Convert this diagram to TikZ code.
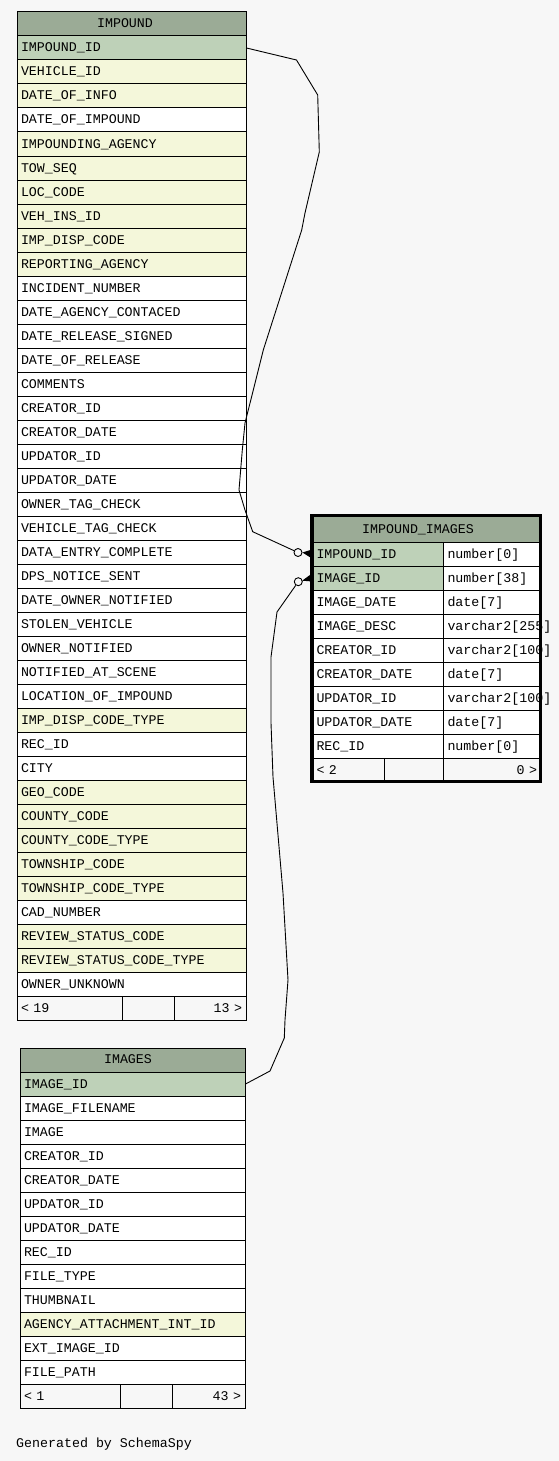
\documentclass[tikz,border=0pt]{standalone}
\usepackage{fontspec}
\newfontfamily\tfont{Liberation Mono}
\usetikzlibrary{calc}
\definecolor{bgc}{HTML}{F7F7F7}
\definecolor{headc}{HTML}{9BAB96}
\definecolor{pkc}{HTML}{BED1B8}
\definecolor{idxc}{HTML}{F4F7DA}
\definecolor{wc}{HTML}{FFFFFF}
\newcommand\mkcell[7]{\pgfmathsetmacro\cw{#4-8}\node[cellbase, fill=#5, text width=\cw pt, align=#6] (#1) at (#2,#3) {\mbox{#7}};}
\begin{document}
\begin{tikzpicture}[x=1pt,y=-1pt,
  tf/.style={font=\tfont\fontsize{13.3}{14}\selectfont},
  cellbase/.style={tf, draw=black, line width=1pt, anchor=north west, minimum height=24pt, inner xsep=4pt, inner ysep=0pt, text height=11pt, text depth=3pt},
  headcell/.style={cellbase, fill=headc, minimum width=#1},
  headtext/.style={tf, anchor=base, inner sep=0pt},
  conn/.style={draw=black, line width=0.9pt},
  hollow/.style={circle, draw=black, line width=0.9pt, fill=bgc, minimum size=8pt, inner sep=0pt},
  crowfoot/.style={fill=black}
]
\fill[bgc] (0,0) rectangle (559,1461);
\useasboundingbox (0,0) rectangle (559,1461);

% ---------------- IMPOUND ----------------
\node[headcell=229pt] (imphead) at (16.5,11.5) {};
\node[headtext] (imphtxt) at (125,27.5) {IMPOUND};
\foreach \n/\c [count=\i, evaluate=\i as \yy using 35.5+(\i-1)*24] in {
  IMPOUND\_ID/pkc, VEHICLE\_ID/idxc, DATE\_OF\_INFO/idxc, DATE\_OF\_IMPOUND/wc,
  IMPOUNDING\_AGENCY/idxc, TOW\_SEQ/idxc, LOC\_CODE/idxc, VEH\_INS\_ID/idxc,
  IMP\_DISP\_CODE/idxc, REPORTING\_AGENCY/idxc, INCIDENT\_NUMBER/wc,
  DATE\_AGENCY\_CONTACED/wc, DATE\_RELEASE\_SIGNED/wc, DATE\_OF\_RELEASE/wc,
  COMMENTS/wc, CREATOR\_ID/wc, CREATOR\_DATE/wc, UPDATOR\_ID/wc, UPDATOR\_DATE/wc,
  OWNER\_TAG\_CHECK/wc, VEHICLE\_TAG\_CHECK/wc, DATA\_ENTRY\_COMPLETE/wc,
  DPS\_NOTICE\_SENT/wc, DATE\_OWNER\_NOTIFIED/wc, STOLEN\_VEHICLE/wc,
  OWNER\_NOTIFIED/wc, NOTIFIED\_AT\_SCENE/wc, LOCATION\_OF\_IMPOUND/wc,
  IMP\_DISP\_CODE\_TYPE/idxc, REC\_ID/wc, CITY/wc, GEO\_CODE/idxc,
  COUNTY\_CODE/idxc, COUNTY\_CODE\_TYPE/idxc, TOWNSHIP\_CODE/idxc,
  TOWNSHIP\_CODE\_TYPE/idxc, CAD\_NUMBER/wc, REVIEW\_STATUS\_CODE/idxc,
  REVIEW\_STATUS\_CODE\_TYPE/idxc, OWNER\_UNKNOWN/wc}
  {\mkcell{imp\i}{16.5}{\yy}{229}{\c}{left}{\n}}
\mkcell{impf1}{16.5}{995.5}{105}{bgc}{left}{< 19}
\mkcell{impf2}{121.5}{995.5}{52}{bgc}{left}{}
\mkcell{impf3}{173.5}{995.5}{72}{bgc}{right}{13 >}

% ---------------- IMAGES ----------------
\node[headcell=225pt] (imghead) at (19.5,1047.5) {};
\node[headtext] (imghtxt) at (128,1063.5) {IMAGES};
\foreach \n/\c [count=\i, evaluate=\i as \yy using 1071.5+(\i-1)*24] in {
  IMAGE\_ID/pkc, IMAGE\_FILENAME/wc, IMAGE/wc, CREATOR\_ID/wc, CREATOR\_DATE/wc,
  UPDATOR\_ID/wc, UPDATOR\_DATE/wc, REC\_ID/wc, FILE\_TYPE/wc, THUMBNAIL/wc,
  AGENCY\_ATTACHMENT\_INT\_ID/idxc, EXT\_IMAGE\_ID/wc, FILE\_PATH/wc}
  {\mkcell{img\i}{19.5}{\yy}{225}{\c}{left}{\n}}
\mkcell{imgf1}{19.5}{1383.5}{100}{bgc}{left}{< 1}
\mkcell{imgf2}{119.5}{1383.5}{52}{bgc}{left}{}
\mkcell{imgf3}{171.5}{1383.5}{73}{bgc}{right}{43 >}

% ---------------- IMPOUND_IMAGES ----------------
\node[headcell=228.5pt, minimum height=26pt] (iihead) at (312,515.5) {};
\node[headtext] (iihtxt) at (418,533.5) {IMPOUND\_IMAGES};
\foreach \n/\t/\c [count=\i, evaluate=\i as \yy using 541.5+(\i-1)*24] in {
  IMPOUND\_ID/number[0]/pkc, IMAGE\_ID/number[38]/pkc, IMAGE\_DATE/date[7]/wc,
  IMAGE\_DESC/varchar2[255]/wc, CREATOR\_ID/varchar2[100]/wc,
  CREATOR\_DATE/date[7]/wc, UPDATOR\_ID/varchar2[100]/wc,
  UPDATOR\_DATE/date[7]/wc, REC\_ID/number[0]/wc}
  {\mkcell{ii\i}{312}{\yy}{131}{\c}{left}{\n}
   \mkcell{iit\i}{443}{\yy}{97.5}{wc}{left}{\t}}
\mkcell{iif1}{312}{757.5}{72}{bgc}{left}{< 2}
\mkcell{iif2}{384}{757.5}{59}{bgc}{left}{}
\mkcell{iif3}{443}{757.5}{97.5}{bgc}{right}{0 >}
\draw[line width=3.5pt] (312,515.5) rectangle (540.5,781.5);

% ---------------- connectors ----------------
\node[hollow] (o1) at (298,552.5) {};
\node[hollow] (o2) at (298.3,581.7) {};

\draw[conn] (imp1.east) -- (296.5,60) -- (317.7,95) -- (319.3,152) -- (305,213)
  -- (301.7,230) -- (263.3,350) -- (253.3,390) -- (245,423) -- (242.3,450)
  -- (239,490) -- (245,510) -- (252.7,531.7) -- (o1);
\fill[crowfoot] (o1.east) -- ($(ii1.west)+(0,-4.5)$) -- ($(ii1.west)+(0,4.5)$) -- cycle;

\draw[conn] (img1.east) -- (270,1071) -- (284.3,1038) -- (285,1020) -- (288,980)
  -- (283,893) -- (273,777) -- (271,723) -- (271,657) -- (277,612) -- (o2);
\fill[crowfoot] ($(o2)!4pt!(ii2.west)$) -- ($(ii2.west)+(0,-4.5)$) -- ($(ii2.west)+(0,3.5)$) -- cycle;

% ---------------- footer ----------------
\node[tf, anchor=base west, inner sep=0pt] (gen) at (16,1447) {Generated by SchemaSpy};
\end{tikzpicture}
\end{document}
